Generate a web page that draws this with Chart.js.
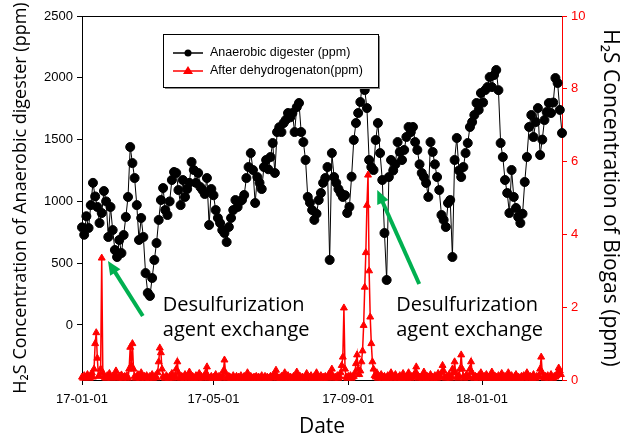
<!DOCTYPE html>
<html lang="en">
<head>
<meta charset="UTF-8">
<title>H2S Concentration</title>
<script src="https://cdn.jsdelivr.net/npm/chart.js"></script>
<style>
    body { margin: 0; background: #fff; }
    canvas { display: block; }
</style>
</head>
<body>
<canvas id="h2sChart" width="621" height="438"></canvas>
<script>
    // x axis = days since 17-01-01
    const xTickDays = [0, 120, 243, 365];
    const xTickLabels = ['17-01-01', '17-05-01', '17-09-01', '18-01-01'];
    const leftTicks = [0, 500, 1000, 1500, 2000, 2500];

    // anaerobic digester (ppm), one reading every 2 days from day 0
    const digesterStep = 2;
    const digesterPpm = [
        790, 730, 880, 785, 970, 1150, 1040, 955, 825, 906,
        1084, 1000, 712, 955, 768, 607, 550, 688, 582, 728,
        874, 1036, 1440, 1310, 1189, 970, 688, 866, 712, 420,
        259, 235, 380, 526, 663, 850, 1011, 1108, 930, 890,
        1000, 1173, 1238, 1230, 1092, 970, 1173, 1036, 1100, 1150,
        1319, 1254, 1150, 1230, 1116, 1092, 1060, 1189, 809, 1100,
        1050, 930, 866, 825, 768, 744, 671, 793, 866, 930,
        1011, 955, 1000, 1011, 1052, 1189, 1278, 1391, 1254, 987,
        1197, 1150, 1100, 1278, 1335, 1260, 1359, 1472, 1230, 1561,
        1600, 1561, 1634, 1660, 1715, 1680, 1715, 1561, 1763, 1796,
        1561, 1480, 1335, 1036, 990, 930, 850, 900, 1011, 1068,
        1150, 1189, 1278, 526, 1391, 1197, 1150, 1100, 1068, 1036,
        1050, 906, 955, 1200, 1497, 1634, 1715, 1804, 1980, 1901,
        1755, 1335, 1278, 1254, 1497, 1634, 1391, 1173, 744, 364,
        1197, 1335, 1250, 1300, 1480, 1400, 1335, 1416, 1521, 1602,
        1560, 1602, 1480, 1416, 1300, 1230, 1197, 1149, 1036, 1480,
        1400, 1300, 1197, 1092, 890, 850, 793, 987, 1011, 550,
        1335, 1513, 1250, 1197, 1278, 1391, 1472, 1602, 1642, 1699,
        1796, 1740, 1877, 1800, 1901, 1925, 2006, 1925, 2022, 2063,
        1900, 1472, 1359, 1173, 1068, 906, 1254, 1036, 947, 874,
        825, 900, 1157, 1359, 1602, 1699, 1521, 1642, 1755, 1375,
        1500, 1658, 1723, 1796, 1715, 1800, 1998, 1958, 1740, 1553
    ];

    // after dehydrogenation (ppm), daily from day 0
    const biogasPpm = [
        0.08,0.05,0.12,0.06,0.1,0.15,0.07,0.05,0.1,0.2,0.08,0.3,1.0,1.3,0.6,0.1,0.12,0.3,3.35,0.2,
        0.1,0.06,0.05,0.12,0.08,0.18,0.06,0.05,0.1,0.07,0.12,0.25,0.08,0.05,0.1,0.06,0.14,0.05,0.08,0.1,
        0.06,0.12,0.05,0.3,0.9,0.4,1.0,0.3,0.1,0.05,0.08,0.15,0.06,0.05,0.2,0.08,0.06,0.1,0.05,0.12,
        0.08,0.05,0.1,0.06,0.15,0.05,0.08,0.12,0.06,0.2,0.5,0.88,0.75,0.3,0.1,0.06,0.05,0.12,0.08,0.05,
        0.1,0.06,0.18,0.05,0.08,0.12,0.3,0.5,0.2,0.06,0.05,0.1,0.08,0.05,0.15,0.06,0.1,0.05,0.22,0.08,
        0.05,0.1,0.06,0.05,0.12,0.08,0.05,0.18,0.06,0.1,0.05,0.08,0.12,0.2,0.36,0.1,0.05,0.06,0.1,0.05,
        0.08,0.05,0.15,0.06,0.05,0.1,0.08,0.05,0.12,0.25,0.55,0.2,0.06,0.05,0.1,0.08,0.05,0.06,0.12,0.05,
        0.06,0.1,0.05,0.08,0.05,0.12,0.06,0.05,0.1,0.05,0.08,0.2,0.06,0.05,0.1,0.05,0.06,0.08,0.05,0.1,
        0.05,0.08,0.06,0.05,0.12,0.05,0.06,0.1,0.05,0.08,0.05,0.06,0.1,0.05,0.12,0.08,0.15,0.27,0.1,0.05,
        0.06,0.05,0.1,0.08,0.05,0.2,0.06,0.05,0.12,0.05,0.08,0.06,0.05,0.1,0.05,0.08,0.22,0.06,0.05,0.1,
        0.05,0.08,0.06,0.05,0.1,0.18,0.06,0.05,0.08,0.12,0.05,0.06,0.1,0.05,0.2,0.08,0.05,0.06,0.12,0.05,
        0.08,0.05,0.1,0.06,0.05,0.15,0.08,0.2,0.3,0.1,0.05,0.08,0.06,0.12,0.05,0.1,0.2,0.4,0.63,1.98,
        0.3,0.08,0.05,0.1,0.06,0.12,0.05,0.08,0.1,0.2,0.45,0.69,0.3,0.15,0.25,0.5,0.8,1.5,2.55,3.5,
        4.8,5.63,3.0,1.73,1.0,0.5,0.3,0.12,0.08,0.2,0.05,0.1,0.06,0.15,0.05,0.08,0.1,0.05,0.06,0.12,
        0.05,0.08,0.2,0.06,0.05,0.1,0.15,0.06,0.05,0.08,0.12,0.05,0.06,0.18,0.05,0.08,0.1,0.05,0.2,0.08,
        0.05,0.1,0.06,0.12,0.2,0.36,0.15,0.05,0.08,0.06,0.1,0.05,0.22,0.06,0.05,0.1,0.08,0.05,0.15,0.06,
        0.08,0.05,0.12,0.06,0.05,0.18,0.06,0.1,0.2,0.4,0.25,0.08,0.05,0.1,0.06,0.15,0.05,0.1,0.3,0.2,
        0.5,0.2,0.08,0.05,0.12,0.3,0.69,0.3,0.1,0.05,0.08,0.15,0.06,0.1,0.3,0.5,0.2,0.06,0.05,0.1,
        0.08,0.05,0.12,0.06,0.2,0.08,0.05,0.1,0.06,0.15,0.05,0.08,0.1,0.05,0.22,0.06,0.05,0.1,0.08,0.05,
        0.12,0.06,0.05,0.18,0.08,0.05,0.1,0.06,0.05,0.2,0.08,0.05,0.12,0.06,0.05,0.1,0.15,0.05,0.08,0.06,
        0.05,0.1,0.06,0.12,0.05,0.08,0.2,0.06,0.05,0.1,0.08,0.05,0.15,0.06,0.05,0.1,0.08,0.12,0.3,0.63,
        0.2,0.08,0.05,0.1,0.06,0.12,0.05,0.08,0.15,0.06,0.05,0.1,0.08,0.12,0.2,0.33,0.25,0.15
    ];

    const tickFont = { family: '"Liberation Sans", Arial, sans-serif', size: 13 };

    // arrows + notes in (day, left-axis ppm)
    const notes = [
        { from: [55.5, 73], to: [23.7, 518], text: [73.7, 162, -40] },
        { from: [307.7, 332], to: [269.4, 1092], text: [286.7, 162, -40] }
    ];

    const overlay = {
        id: 'overlay',
        afterDatasetsDraw(chart) {
            const { ctx, chartArea: a } = chart;
            const x = chart.scales.x, y = chart.scales.y;
            ctx.save();

            // top frame
            ctx.strokeStyle = '#000';
            ctx.lineWidth = 1;
            ctx.beginPath();
            ctx.moveTo(a.left, a.top + 0.5);
            ctx.lineTo(a.right, a.top + 0.5);
            ctx.stroke();

            notes.forEach(n => {
                const x1 = x.getPixelForValue(n.from[0]), y1 = y.getPixelForValue(n.from[1]);
                const x2 = x.getPixelForValue(n.to[0]), y2 = y.getPixelForValue(n.to[1]);
                const ang = Math.atan2(y2 - y1, x2 - x1);
                const head = 15;
                ctx.strokeStyle = '#00b050';
                ctx.fillStyle = '#00b050';
                ctx.lineWidth = 4;
                ctx.beginPath();
                ctx.moveTo(x1, y1);
                ctx.lineTo(x2 - Math.cos(ang) * head * 0.8, y2 - Math.sin(ang) * head * 0.8);
                ctx.stroke();
                ctx.beginPath();
                ctx.moveTo(x2, y2);
                ctx.lineTo(x2 - head * Math.cos(ang - 0.42), y2 - head * Math.sin(ang - 0.42));
                ctx.lineTo(x2 - head * Math.cos(ang + 0.42), y2 - head * Math.sin(ang + 0.42));
                ctx.closePath();
                ctx.fill();

                ctx.fillStyle = '#000';
                ctx.font = '20px "Open Sans", sans-serif';
                ctx.textAlign = 'left';
                ctx.textBaseline = 'middle';
                const tx = x.getPixelForValue(n.text[0]);
                ctx.fillText('Desulfurization', tx, y.getPixelForValue(n.text[1]));
                ctx.fillText('agent exchange', tx, y.getPixelForValue(n.text[2]));
            });

            // legend box
            const bx = a.left + 81, by = a.top + 18, bw = 215, bh = 53;
            ctx.fillStyle = '#888';
            ctx.fillRect(bx + 2, by + 2, bw, bh);
            ctx.fillStyle = '#fff';
            ctx.fillRect(bx, by, bw, bh);
            ctx.strokeStyle = '#000';
            ctx.lineWidth = 1;
            ctx.strokeRect(bx + 0.5, by + 0.5, bw, bh);

            const rows = [chart.data.datasets[1], chart.data.datasets[0]];
            rows.forEach((ds, i) => {
                const ry = by + 19 + i * 18;
                ctx.strokeStyle = ds.borderColor;
                ctx.fillStyle = ds.borderColor;
                ctx.lineWidth = 1.5;
                ctx.beginPath();
                ctx.moveTo(bx + 10, ry);
                ctx.lineTo(bx + 40, ry);
                ctx.stroke();
                ctx.beginPath();
                if (ds.pointStyle === 'triangle') {
                    ctx.moveTo(bx + 25, ry - 5);
                    ctx.lineTo(bx + 30, ry + 3);
                    ctx.lineTo(bx + 20, ry + 3);
                    ctx.closePath();
                } else {
                    ctx.arc(bx + 25, ry, 3.5, 0, Math.PI * 2);
                }
                ctx.fill();
                ctx.fillStyle = '#000';
                ctx.font = '12.5px "Liberation Sans", Arial, sans-serif';
                ctx.textAlign = 'left';
                ctx.textBaseline = 'middle';
                ctx.fillText(ds.label, bx + 47, ry);
            });
            ctx.restore();
        }
    };

    new Chart(document.getElementById('h2sChart'), {
        type: 'line',
        data: {
            datasets: [
                {
                    label: 'After dehydrogenaton(ppm)',
                    yAxisID: 'y2',
                    data: biogasPpm.map((v, i) => ({ x: i, y: v })),
                    borderColor: '#ff0000',
                    backgroundColor: '#ff0000',
                    borderWidth: 1.5,
                    pointStyle: 'triangle',
                    pointRadius: 4,
                    pointBorderWidth: 1,
                    clip: false,
                    order: 1
                },
                {
                    label: 'Anaerobic digester (ppm)',
                    yAxisID: 'y',
                    data: digesterPpm.map((v, i) => ({ x: i * digesterStep, y: v })),
                    borderColor: '#000',
                    backgroundColor: '#000',
                    borderWidth: 1,
                    pointRadius: 4.5,
                    pointBorderWidth: 1,
                    clip: false,
                    order: 2
                }
            ]
        },
        options: {
            responsive: false,
            animation: false,
            devicePixelRatio: 1,
            layout: { padding: { top: 16, left: 0, right: 0, bottom: 0 } },
            plugins: { legend: { display: false }, tooltip: { enabled: false } },
            scales: {
                x: {
                    type: 'linear',
                    min: 0,
                    max: 438,
                    afterFit: s => { s.height = 58; },
                    afterBuildTicks: s => { s.ticks = xTickDays.map(v => ({ value: v })); },
                    ticks: {
                        font: tickFont,
                        color: '#000',
                        padding: 7,
                        maxRotation: 0,
                        callback: v => xTickLabels[xTickDays.indexOf(v)]
                    },
                    grid: { drawOnChartArea: false, tickLength: 5, color: '#000' },
                    border: { color: '#000' },
                    title: { display: true, text: 'Date', font: { family: '"Open Sans", sans-serif', size: 21, lineHeight: 1 }, color: '#000', padding: { top: 0, bottom: 0 } }
                },
                y: {
                    position: 'left',
                    min: -445,
                    max: 2500,
                    afterFit: s => { s.width = 82; },
                    afterBuildTicks: s => { s.ticks = leftTicks.map(v => ({ value: v })); },
                    ticks: { font: tickFont, color: '#000', padding: 4, callback: v => String(v) },
                    grid: { drawOnChartArea: false, tickLength: 5, color: '#000' },
                    border: { color: '#000' },
                    title: { display: true, text: 'H₂S Concentration of Anaerobic digester (ppm)', font: { family: '"Open Sans", sans-serif', size: 18, lineHeight: 1 }, color: '#000', padding: { top: 12, bottom: 0 } }
                },
                y2: {
                    position: 'right',
                    min: 0,
                    max: 10,
                    afterFit: s => { s.width = 59; },
                    ticks: { stepSize: 2, font: tickFont, color: '#ff0000', padding: 4, callback: v => String(v) },
                    grid: { drawOnChartArea: false, tickLength: 5, color: '#ff0000' },
                    border: { color: '#ff0000' },
                    title: { display: true, text: 'H₂S Concentration of Biogas (ppm)', font: { family: '"Open Sans", sans-serif', size: 21, lineHeight: 1 }, color: '#000', padding: { top: 1, bottom: 0 } }
                }
            }
        },
        plugins: [overlay]
    });
</script>
</body>
</html>
